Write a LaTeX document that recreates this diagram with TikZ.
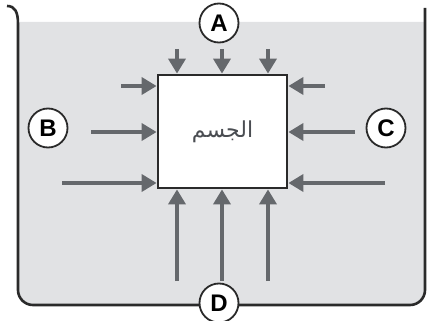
\documentclass[tikz,border=0pt]{standalone}
\usepackage{fontspec}
\setsansfont{Liberation Sans}
\newfontfamily\arabicfont[Script=Arabic]{DejaVu Sans}
\TeXXeTstate=1
\usetikzlibrary{arrows.meta}

\definecolor{forcegray}{HTML}{65686C}
\definecolor{watergray}{HTML}{E1E2E4}
\definecolor{wallgray}{HTML}{2A2A2A}
\definecolor{textgray}{HTML}{4A4D52}

\begin{document}
\begin{tikzpicture}[x=1pt,y=-1pt,
    force/.style={draw=forcegray, line width=3.6pt, -{Triangle[length=15pt,width=17pt]}},
    letter/.style={circle, draw=wallgray, line width=1.8pt, fill=white, minimum size=39pt, inner sep=0pt,
        font=\sffamily\bfseries\fontsize{24}{24}\selectfont}]
    \useasboundingbox (0,0) rectangle (429,321);

    % liquid and vessel
    \fill[watergray] (18,22) [rounded corners=15pt] -- (18,305) -- (425,305) [sharp corners] -- (425,22) -- cycle;
    \draw[wallgray, line width=2.6pt] (7,6) .. controls (15,6) and (18,12) .. (18,24)
        [rounded corners=15pt] -- (18,305) -- (425,305) [sharp corners] -- (425,8);

    % the body
    \node[draw=wallgray, line width=2.8pt, fill=white, minimum width=129pt, minimum height=113pt,
        text=textgray, font=\arabicfont\fontsize{22}{22}\selectfont] (body) at (222.5,131.5) {\beginR الجسم\endR};

    % tails of the forces
    \coordinate (a1) at (177,49);
    \coordinate (a2) at (222,49);
    \coordinate (a3) at (268,49);
    \coordinate (d1) at (177,281);
    \coordinate (d2) at (222,281);
    \coordinate (d3) at (268,281);
    \coordinate (b1) at (121,86);
    \coordinate (b2) at (91,132);
    \coordinate (b3) at (62,183);
    \coordinate (c1) at (325,86);
    \coordinate (c2) at (355,132);
    \coordinate (c3) at (385,183);

    \draw[force] (a1) -- (a1 |- body.north);
    \draw[force] (a2) -- (a2 |- body.north);
    \draw[force] (a3) -- (a3 |- body.north);
    \draw[force] (d1) -- (d1 |- body.south);
    \draw[force] (d2) -- (d2 |- body.south);
    \draw[force] (d3) -- (d3 |- body.south);
    \draw[force] (b1) -- (b1 -| body.west);
    \draw[force] (b2) -- (b2 -| body.west);
    \draw[force] (b3) -- (b3 -| body.west);
    \draw[force] (c1) -- (c1 -| body.east);
    \draw[force] (c2) -- (c2 -| body.east);
    \draw[force] (c3) -- (c3 -| body.east);

    % labels
    \node[letter] (A) at (219,23) {A};
    \node[letter] (B) at (48,128) {B};
    \node[letter] (C) at (386,128) {C};
    \node[letter] (D) at (219,303) {D};
\end{tikzpicture}
\end{document}
